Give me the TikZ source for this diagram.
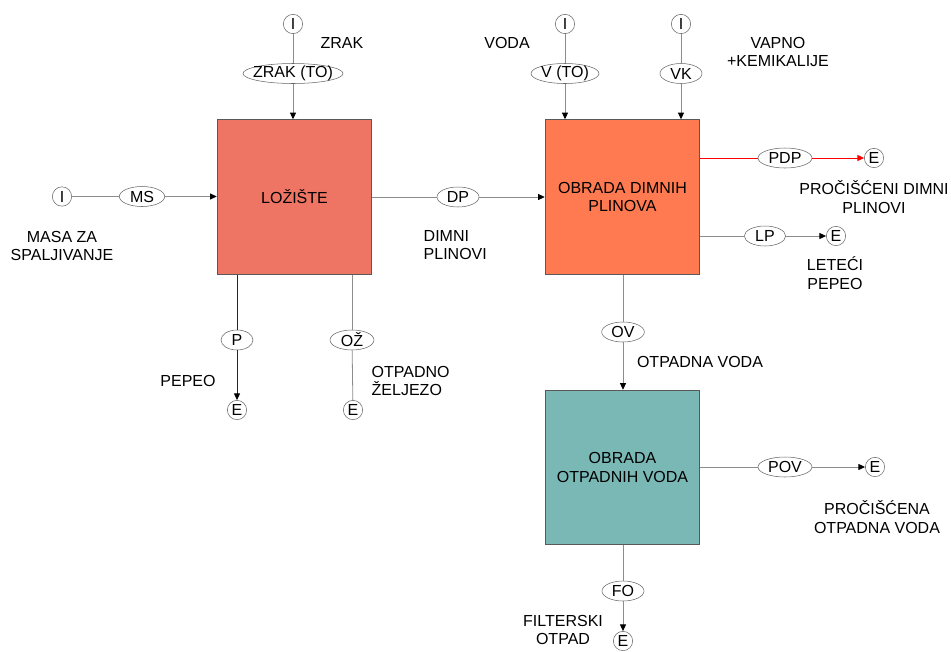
\documentclass[tikz,border=0pt]{standalone}
\usepackage{fontspec}
\setmainfont{Liberation Sans}
\usetikzlibrary{shapes.geometric,arrows.meta}

\definecolor{furnace}{HTML}{EE7564}
\definecolor{fluegas}{HTML}{FF7A50}
\definecolor{wastewater}{HTML}{7AB8B6}
\definecolor{flowline}{HTML}{8C8C8C}

\tikzset{
    unit/.style={draw=black!65, line width=0.6pt, minimum width=116pt, minimum height=116pt, inner sep=0pt, align=center},
    stream/.style={ellipse, draw=black!60, fill=white, inner xsep=-12pt, inner ysep=-4pt, minimum height=15pt},
    terminal/.style={circle, draw=black!60, fill=white, inner sep=0pt, minimum size=14.5pt},
    flow/.style={draw=flowline, line width=0.6pt},
    feed/.style={flow, -{Triangle[length=5pt,width=4.5pt,color=black]}},
    note/.style={align=center}
}

\begin{document}
\begin{tikzpicture}[x=0.75pt,y=-0.75pt,font=\fontsize{12}{14}\selectfont]
            \useasboundingbox (0,0) rectangle (951,651);

            % process units
            \node[unit, fill=furnace] (loziste) at (294.5,197) {LOŽIŠTE};
            \node[unit, fill=fluegas] (obradadp) at (622.5,197) {OBRADA DIMNIH\\PLINOVA};
            \node[unit, fill=wastewater] (obradaov) at (622.5,467.5) {OBRADA\\OTPADNIH VODA};

            % inputs
            \node[terminal] (izrak) at (293,24) {I};
            \node[stream, minimum width=75pt] (zrakto) at (293,73.5) {ZRAK (TO)};
            \node[note] (tzrak) at (342,43) {ZRAK};

            \node[terminal] (ims) at (62,196.5) {I};
            \node[stream, minimum width=34pt] (ms) at (142,196.5) {MS};
            \node[note] (tms) at (62,246) {MASA ZA\\SPALJIVANJE};

            \node[terminal] (ivoda) at (565,24) {I};
            \node[stream, minimum width=51pt] (vto) at (565,73.5) {V (TO)};
            \node[note] (tvoda) at (507,43) {VODA};

            \node[terminal] (ivk) at (681,24) {I};
            \node[stream, minimum width=31.5pt] (vk) at (681,73.5) {VK};
            \node[note] (tvk) at (778,52) {VAPNO\\+KEMIKALIJE};

            % furnace outputs
            \node[stream, minimum width=31.5pt] (dp) at (458,197) {DP};
            \node[align=left, anchor=west] (tdp) at (419,245) {DIMNI\\PLINOVI};

            \node[stream, minimum width=24pt] (p) at (237,340) {P};
            \node[terminal] (ep) at (237,410) {E};
            \node[note] (tp) at (188,381) {PEPEO};

            \node[stream, minimum width=33pt] (oz) at (352,340) {OŽ};
            \node[terminal] (eoz) at (353,410) {E};
            \node[align=left, anchor=west] (toz) at (367,381) {OTPADNO\\ŽELJEZO};

            % flue gas treatment outputs
            \node[stream, minimum width=40.5pt] (pdp) at (785,158) {PDP};
            \node[terminal] (epdp) at (874,158) {E};
            \node[note] (tpdp) at (874,197) {PROČIŠĆENI DIMNI\\PLINOVI};

            \node[stream, minimum width=31pt] (lp) at (765,236) {LP};
            \node[terminal] (elp) at (836,236) {E};
            \node[note] (tlp) at (835,273) {LETEĆI\\PEPEO};

            \node[stream, minimum width=32pt] (ov) at (623,332) {OV};
            \node[note] (tov) at (700,362) {OTPADNA VODA};

            % waste water treatment outputs
            \node[stream, minimum width=40.5pt] (pov) at (785,467) {POV};
            \node[terminal] (epov) at (875,467) {E};
            \node[note] (tpov) at (877,517) {PROČIŠĆENA\\OTPADNA VODA};

            \node[stream, minimum width=31.5pt] (fo) at (623,591) {FO};
            \node[terminal] (efo) at (623,641) {E};
            \node[note] (tfo) at (563,630) {FILTERSKI\\OTPAD};

            % connectors
            \draw[flow] (izrak) -- (zrakto);
            \draw[feed] (zrakto) -- (zrakto |- loziste.north);
            \draw[flow] (ims) -- (ms);
            \draw[feed] (ms) -- (ms -| loziste.west);
            \draw[flow] (ivoda) -- (vto);
            \draw[feed] (vto) -- (vto |- obradadp.north);
            \draw[flow] (ivk) -- (vk);
            \draw[feed] (vk) -- (vk |- obradadp.north);

            \draw[flow] (loziste.east |- dp) -- (dp);
            \draw[feed] (dp) -- (dp -| obradadp.west);
            \draw[flow, draw=black!85] (loziste.south -| p) -- (p);
            \draw[feed, draw=black!85] (p) -- (ep);
            \draw[flow] (loziste.south -| oz) -- (oz);
            \draw[flow] (oz) -- (eoz);

            \draw[flow, draw=red] (obradadp.east |- pdp) -- (pdp);
            \draw[feed, draw=red, -{Triangle[length=5pt,width=4.5pt,color=red]}] (pdp) -- (epdp);
            \draw[flow] (obradadp.east |- lp) -- (lp);
            \draw[feed] (lp) -- (elp);
            \draw[flow] (obradadp.south -| ov) -- (ov);
            \draw[feed] (ov) -- (ov |- obradaov.north);

            \draw[flow] (obradaov.east |- pov) -- (pov);
            \draw[feed] (pov) -- (epov);
            \draw[flow] (obradaov.south -| fo) -- (fo);
            \draw[feed] (fo) -- (efo);
        \end{tikzpicture}
\end{document}
